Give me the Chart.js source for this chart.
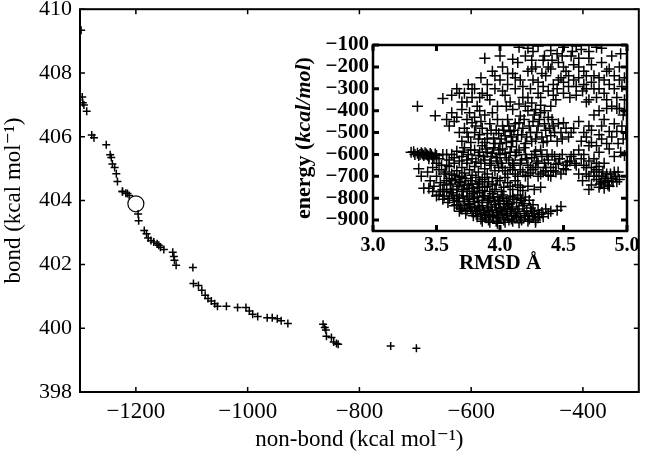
<!DOCTYPE html>
<html>
<head>
<meta charset="utf-8">
<script src="https://cdn.jsdelivr.net/npm/chart.js@4/dist/chart.umd.min.js"></script>
<style>
  body { margin: 0; background: #fff; }
  #wrap { position: relative; width: 648px; height: 454px; }
  #main { position: absolute; left: 0; top: 0; }
  #inset { position: absolute; left: 290px; top: 36px; }
</style>
</head>
<body>
<div id="wrap">
  <canvas id="main" width="648" height="454"></canvas>
  <canvas id="inset" width="348" height="240"></canvas>
</div>
<script>
// main panel: non-bond vs bond energy
const nonBond = [
  -1298, -1296, -1295, -1293, -1288, -1279, -1275, -1253,
  -1246, -1244, -1242, -1238, -1235, -1233, -1224, -1218, -1212, -1224, -1215,
  -1196, -1195, -1185, -1181, -1178, -1173, -1168, -1162, -1159, -1156, -1150,
  -1134, -1132, -1131, -1128, -1098,
  -1097, -1088, -1082, -1076, -1071, -1065, -1059, -1054,
  -1038, -1018, -1003, -997, -991, -982, -965, -956, -947, -940, -928,
  -865, -862, -860, -859, -850, -846, -841, -838, -744, -698
];
const bond = [
  409.34, 407.25, 407.07, 407.0, 406.8, 406.06, 405.97, 405.75,
  405.44, 405.35, 405.15, 405.04, 404.84, 404.6, 404.29, 404.23, 404.16, 404.28, 404.22,
  403.58, 403.37, 403.06, 402.96, 402.83, 402.75, 402.7, 402.65, 402.6, 402.54, 402.47,
  402.38, 402.25, 402.13, 401.97, 401.9,
  401.4, 401.34, 401.19, 401.03, 400.93, 400.85, 400.77, 400.69,
  400.69, 400.65, 400.65, 400.54, 400.44, 400.37, 400.33, 400.33, 400.3, 400.23, 400.15,
  400.12, 400.02, 399.94, 399.75, 399.71, 399.57, 399.52, 399.5, 399.44, 399.37
];
const circledX = [-1200];
const circledY = [403.9];
const xTicks = [-1200, -1000, -800, -600, -400];
const yTicks = [398, 400, 402, 404, 406, 408, 410];

// inset: RMSD vs energy
const insetPoints = [
  // left tail
  [3.30,-590],[3.35,-595],[3.37,-600],[3.38,-592],[3.40,-605],[3.42,-598],[3.44,-610],[3.46,-602],
  [3.48,-615],[3.50,-605],[3.52,-620],[3.55,-600],
  [3.32,-588],[3.36,-605],[3.39,-598],[3.41,-592],[3.43,-604],[3.45,-596],[3.47,-612],[3.49,-598],
  [3.33,-600],[3.44,-620],
  [3.36,-665],[3.38,-700],[3.40,-755],[3.43,-680],[3.45,-720],[3.47,-660],[3.48,-745],[3.50,-700],
  [3.52,-670],[3.53,-730],[3.55,-760],[3.56,-690],[3.58,-650],[3.58,-720],
  [3.50,-640],[3.54,-650],[3.57,-680],[3.60,-710],[3.61,-760],[3.56,-740],[3.53,-770],[3.47,-770],
  [3.44,-755],[3.50,-790],[3.55,-805],[3.59,-820],[3.64,-835],[3.68,-860],
  // dense core
  [3.60,-655],[3.62,-690],[3.64,-640],[3.66,-675],[3.68,-700],[3.70,-660],[3.72,-685],[3.74,-640],
  [3.76,-670],[3.78,-695],[3.80,-655],[3.83,-680],[3.85,-640],[3.88,-665],[3.90,-690],[3.93,-650],
  [3.96,-675],[3.99,-660],
  [3.58,-770],[3.61,-735],[3.63,-760],[3.65,-715],[3.67,-745],[3.69,-725],[3.71,-760],[3.73,-710],
  [3.75,-740],[3.77,-720],[3.79,-755],[3.81,-705],[3.83,-735],[3.86,-715],[3.88,-750],[3.91,-725],
  [3.94,-705],[3.97,-740],[4.00,-720],[4.03,-750],[4.06,-730],[4.10,-760],[4.14,-740],[4.18,-765],
  [4.22,-745],[4.27,-760],[4.32,-750],
  [3.62,-720],[3.64,-695],[3.66,-760],[3.68,-730],[3.70,-705],[3.72,-740],[3.74,-770],[3.76,-755],
  [3.78,-735],[3.80,-770],[3.82,-750],[3.84,-725],[3.86,-765],[3.88,-705],[3.90,-745],[3.92,-770],
  [3.94,-735],[3.96,-760],[3.98,-710],[4.01,-770],[4.04,-705],[4.08,-745],[4.12,-720],[4.16,-750],
  [3.52,-785],[3.56,-790],[3.60,-800],[3.62,-775],[3.64,-810],[3.66,-785],[3.68,-800],[3.70,-770],
  [3.72,-815],[3.74,-790],[3.76,-805],[3.78,-780],[3.80,-815],[3.82,-795],[3.84,-775],[3.86,-810],
  [3.88,-790],[3.90,-820],[3.92,-800],[3.94,-780],[3.96,-815],[3.98,-795],[4.00,-810],[4.02,-785],
  [4.05,-815],[4.08,-795],[4.11,-805],[4.14,-785],[4.17,-810],[4.20,-795],
  [3.63,-790],[3.67,-815],[3.71,-795],[3.75,-825],[3.79,-800],[3.83,-820],[3.87,-790],[3.91,-810],
  [3.95,-795],[3.99,-825],[4.03,-800],[4.07,-825],[4.10,-790],[4.13,-820],[4.16,-800],[4.19,-825],
  [4.23,-810],[4.26,-830],
  [3.66,-830],[3.69,-845],[3.72,-835],[3.74,-855],[3.76,-830],[3.78,-860],[3.80,-840],[3.82,-870],
  [3.84,-850],[3.86,-835],[3.88,-865],[3.90,-845],[3.92,-875],[3.94,-855],[3.96,-830],[3.98,-865],
  [4.00,-845],[4.02,-875],[4.04,-850],[4.06,-830],[4.08,-860],[4.10,-840],[4.12,-870],[4.15,-850],
  [4.18,-835],[4.21,-860],[4.24,-845],[4.27,-870],[4.30,-855],[4.33,-865],[4.36,-850],[4.40,-860],
  [3.70,-850],[3.73,-870],[3.77,-845],[3.79,-880],[3.81,-855],[3.83,-840],[3.85,-875],[3.87,-855],
  [3.89,-890],[3.91,-860],[3.93,-840],[3.95,-880],[3.97,-855],[3.99,-890],[4.01,-860],[4.03,-840],
  [4.05,-870],[4.07,-900],[4.09,-850],[4.11,-880],[4.14,-860],[4.16,-890],[4.19,-870],[4.22,-880],
  [4.25,-860],[4.28,-900],[4.31,-875],[4.34,-885],[4.38,-870],
  [3.82,-885],[3.85,-895],[3.88,-880],[3.91,-900],[3.94,-885],[3.97,-905],[4.00,-890],[4.03,-900],
  [4.06,-880],[4.09,-895],[4.13,-885],[4.17,-900],[4.20,-880],[4.23,-895],[4.26,-885],[4.30,-890],
  [3.86,-905],[3.92,-910],[3.98,-915],[4.04,-910],[4.10,-905],[4.15,-912],[4.22,-905],[4.28,-910],
  [4.45,-855],[4.48,-838],
  // band around -600
  [3.62,-600],[3.66,-585],[3.70,-610],[3.72,-570],[3.75,-600],[3.78,-620],[3.80,-580],[3.83,-605],
  [3.86,-560],[3.88,-625],[3.90,-590],[3.93,-610],[3.95,-570],[3.98,-630],[4.00,-600],[4.02,-575],
  [4.05,-615],[4.08,-590],[4.10,-640],[4.12,-605],[4.15,-580],[4.17,-625],[4.20,-600],[4.22,-650],
  [4.25,-615],[4.28,-585],[4.30,-640],[4.33,-610],[4.36,-660],[4.38,-625],[4.41,-600],[4.44,-645],
  [4.47,-620],[4.50,-665],[4.53,-635],[4.56,-610],[4.60,-650],
  [3.58,-600],[3.60,-625],[3.64,-615],[3.68,-630],[3.71,-590],[3.74,-625],[3.77,-580],[3.81,-635],
  [3.84,-590],[3.87,-610],[3.89,-575],[3.92,-640],[3.94,-595],[3.97,-615],[3.99,-580],[4.01,-640],
  [4.04,-595],[4.07,-625],[4.09,-565],[4.11,-650],[4.13,-590],[4.16,-640],[4.19,-570],[4.21,-620],
  [4.24,-660],[4.27,-600],[4.29,-630],[4.32,-580],[4.35,-640],[4.37,-600],[4.40,-660],[4.43,-610],
  [4.46,-640],[4.49,-600],[4.52,-650],[4.55,-630],[4.58,-600],[4.59,-640],
  [4.02,-660],[4.06,-690],[4.10,-670],[4.14,-700],[4.18,-680],[4.22,-695],[4.26,-670],[4.30,-700],
  [4.34,-680],[4.38,-695],[4.42,-675],
  [4.04,-675],[4.08,-660],[4.12,-690],[4.16,-670],[4.20,-700],[4.24,-685],[4.28,-660],[4.32,-690],
  [4.36,-675],[4.40,-700],[4.44,-680],[4.48,-690],[4.52,-670],
  // middle blob
  [3.60,-470],[3.64,-450],[3.68,-500],[3.72,-480],[3.75,-520],[3.78,-455],[3.80,-500],[3.83,-530],
  [3.86,-480],[3.88,-545],[3.90,-505],[3.92,-460],[3.95,-525],[3.97,-490],[4.00,-550],[4.02,-470],
  [4.04,-515],[4.06,-440],[4.08,-495],[4.10,-540],[4.12,-460],[4.14,-510],[4.16,-425],[4.18,-480],
  [4.20,-550],[4.22,-400],[4.24,-500],[4.26,-450],[4.28,-530],[4.30,-470],[4.32,-410],[4.34,-545],
  [4.36,-490],[4.38,-430],[4.40,-515],[4.42,-470],[4.45,-540],[4.48,-500],[4.50,-455],[4.54,-520],
  [4.58,-480],
  [3.90,-530],[3.93,-490],[3.96,-550],[3.99,-505],[4.01,-530],[4.03,-490],[4.05,-545],[4.07,-470],
  [4.09,-520],[4.11,-490],[4.13,-540],[4.15,-455],[4.17,-510],[4.19,-440],[4.21,-520],[4.23,-470],
  [4.25,-540],[4.27,-420],[4.29,-500],[4.31,-440],[4.33,-520],[4.35,-460],[4.37,-540],[4.39,-480],
  [4.41,-440],[4.43,-500],[4.46,-460],[4.49,-530],[4.52,-480],[4.56,-500],
  [3.70,-540],[3.74,-500],[3.77,-545],[3.81,-470],[3.84,-510],[3.85,-450],
  [4.20,-380],[4.25,-365],[4.28,-395],[4.32,-375],[4.35,-400],
  // right cluster
  [4.62,-690],[4.65,-720],[4.68,-660],[4.70,-700],[4.72,-740],[4.74,-680],[4.76,-715],[4.78,-655],
  [4.80,-700],[4.82,-730],[4.84,-690],[4.86,-745],[4.88,-710],[4.90,-680],[4.92,-725],[4.70,-760],
  [4.78,-750],[4.85,-720],
  [4.76,-670],[4.78,-700],[4.80,-725],[4.81,-680],[4.83,-710],[4.85,-740],[4.87,-690],[4.89,-725],
  [4.91,-700],[4.93,-680],[4.94,-715],[4.79,-735],[4.82,-755],[4.74,-700],[4.72,-660],[4.68,-690],
  [4.66,-650],[4.64,-620],[4.70,-630],[4.76,-640],
  [4.62,-580],[4.66,-600],[4.70,-560],[4.74,-620],[4.78,-590],[4.82,-640],[4.86,-575],[4.90,-610],
  [4.95,-590],[4.98,-605],[4.93,-550],[4.97,-530],
  [4.64,-540],[4.68,-520],[4.72,-545],[4.76,-560],[4.80,-530],[4.84,-550],[4.88,-520],[4.92,-495],
  [4.96,-470],[4.99,-500],[4.80,-470],[4.72,-490],
  [4.62,-450],[4.66,-500],[4.70,-470],[4.74,-420],[4.78,-510],[4.82,-440],[4.86,-495],[4.90,-460],
  [4.94,-390],[4.97,-420],[4.84,-390],[4.88,-380],[4.78,-400],
  // sparse upper part
  [3.35,-380],[3.55,-345],[3.49,-423],
  [3.62,-330],[3.66,-300],[3.70,-360],[3.72,-320],[3.75,-280],[3.78,-340],[3.80,-300],[3.82,-380],
  [3.85,-250],[3.86,-320],[3.88,-160],[3.90,-280],[3.92,-350],[3.94,-220],[3.96,-300],[3.98,-380],
  [4.00,-260],[4.02,-200],[4.04,-330],[4.06,-280],[4.08,-360],[4.10,-230],[4.12,-300],[4.14,-180],
  [4.16,-260],[4.18,-340],[4.20,-150],[4.22,-220],[4.24,-300],[4.26,-130],[4.28,-200],[4.30,-270],
  [4.32,-340],[4.34,-170],[4.36,-240],[4.38,-310],[4.40,-210],[4.42,-280],[4.44,-350],[4.46,-180],
  [4.48,-250],[4.50,-320],[4.52,-220],[4.54,-290],[4.56,-150],[4.58,-260],[4.60,-330],[4.62,-200],
  [4.64,-120],[4.66,-280],[4.68,-240],[4.70,-350],[4.72,-190],[4.74,-300],[4.76,-110],[4.78,-250],
  [4.80,-180],[4.82,-320],[4.84,-220],[4.86,-280],[4.88,-150],[4.90,-240],[4.92,-340],[4.94,-200],
  [4.96,-290],[4.98,-250],[4.95,-140],
  [3.90,-330],[3.96,-240],[4.02,-310],[4.06,-230],[4.12,-250],[4.18,-290],[4.22,-340],[4.26,-260],
  [4.30,-320],[4.34,-290],[4.38,-200],[4.42,-330],[4.46,-260],[4.50,-200],[4.54,-240],[4.58,-190],
  [4.62,-250],[4.66,-220],[4.70,-160],[4.74,-240],[4.78,-300],[4.82,-260],[4.86,-210],[4.90,-300],
  [4.94,-260],[4.98,-350],[4.25,-210],[4.33,-230],[4.41,-170],[4.49,-150],[4.57,-130],[4.68,-300],
  [4.76,-340],[4.84,-350],[4.92,-390],[4.98,-400],[3.78,-300],[3.84,-340],[3.74,-360],[3.68,-320],
  [3.58,-440],[3.62,-410],[3.66,-430],[3.70,-395],[3.74,-440],[3.76,-410],[3.80,-430],[3.84,-400],
  [3.88,-420],[3.94,-410],[3.98,-440],
  [4.05,-380],[4.10,-395],[4.15,-370],[4.40,-380],[4.45,-300],[4.50,-270],[4.55,-340],[4.60,-290],
  [4.65,-310],[4.68,-360],[4.72,-270],
  [4.15,-110],[4.22,-115],[4.30,-105],[4.40,-125],[4.50,-110],[4.60,-105],[4.70,-130],[4.80,-115],
  [4.62,-160],[4.45,-140],[4.35,-150],[4.25,-170],[4.10,-165],[4.00,-150]
];
const rmsdTicks = [3.0, 3.5, 4.0, 4.5, 5.0];
const energyTicks = [-900, -800, -700, -600, -500, -400, -300, -200, -100];

const serif = "'Liberation Serif', 'DejaVu Serif', serif";
const minus = (v) => String(v).replace("-", "\u2212");

// no extra room for half tick labels: keep the plot box where it is
const noPad = (s) => {
    s.paddingTop = 0;
    s.paddingBottom = 0;
    s.paddingLeft = 0;
    s.paddingRight = 0;
};

// box around the plot area plus inward tick marks on all four sides
const frameTicks = {
    id: "frameTicks",
    afterDraw(chart, args, opts) {
        const { ctx, chartArea: a } = chart;
        const x = chart.scales.x;
        const y = chart.scales.y;
        const L = opts.len;
        ctx.save();
        ctx.strokeStyle = "#000";
        ctx.lineWidth = opts.lineWidth;
        ctx.strokeRect(a.left, a.top, a.right - a.left, a.bottom - a.top);
        ctx.lineWidth = opts.tickWidth;
        ctx.beginPath();
        x.ticks.forEach((t) => {
            const px = x.getPixelForValue(t.value);
            ctx.moveTo(px, a.bottom); ctx.lineTo(px, a.bottom - L);
            ctx.moveTo(px, a.top); ctx.lineTo(px, a.top + L);
        });
        y.ticks.forEach((t) => {
            const py = y.getPixelForValue(t.value);
            ctx.moveTo(a.left, py); ctx.lineTo(a.left + L, py);
            ctx.moveTo(a.right, py); ctx.lineTo(a.right - L, py);
        });
        ctx.stroke();
        ctx.restore();
    },
};

new Chart(document.getElementById("main"), {
    type: "scatter",
    data: {
        datasets: [
            {
                data: nonBond.map((v, i) => ({ x: v, y: bond[i] })),
                pointStyle: "cross",
                pointRadius: 4,
                borderColor: "#000",
                borderWidth: 1.5,
            },
            {
                data: circledX.map((v, i) => ({ x: v, y: circledY[i] })),
                pointStyle: "circle",
                pointRadius: 8,
                backgroundColor: "rgba(0,0,0,0)",
                borderColor: "#000",
                borderWidth: 1.2,
            },
        ],
    },
    options: {
        responsive: false,
        animation: false,
        devicePixelRatio: 1,
        layout: { padding: { top: 8, right: 6, left: 0, bottom: 0 } },
        plugins: {
            legend: { display: false },
            tooltip: { enabled: false },
            frameTicks: { len: 5, lineWidth: 2, tickWidth: 1.5 },
        },
        scales: {
            x: {
                type: "linear",
                min: -1300,
                max: -300,
                afterBuildTicks: (s) => { s.ticks = xTicks.map((v) => ({ value: v })); },
                afterFit: (s) => { s.height = 62; noPad(s); },
                grid: { display: false, drawTicks: false },
                border: { display: false },
                ticks: { color: "#000", padding: 6, maxRotation: 0, autoSkip: false, font: { family: serif, size: 23 }, callback: minus },
                title: { display: true, text: "non-bond (kcal mol\u207B\u00B9)", color: "#000", padding: 0, font: { family: serif, size: 23 } },
            },
            y: {
                type: "linear",
                min: 398,
                max: 410,
                afterBuildTicks: (s) => { s.ticks = yTicks.map((v) => ({ value: v })); },
                afterFit: (s) => { s.width = 80; noPad(s); },
                grid: { display: false, drawTicks: false },
                border: { display: false },
                ticks: { color: "#000", padding: 8, autoSkip: false, font: { family: serif, size: 22 } },
                title: { display: true, text: "bond (kcal mol\u207B\u00B9)", color: "#000", padding: 0, font: { family: serif, size: 23 } },
            },
        },
    },
    plugins: [frameTicks],
});

// y title of the inset with the unit in italics
const insetTitle = {
    id: "insetTitle",
    afterDraw(chart) {
        const { ctx, chartArea: a } = chart;
        const parts = [
            ["energy (", "bold 22px " + serif],
            ["kcal/mol", "italic bold 22px " + serif],
            [")", "bold 22px " + serif],
        ];
        ctx.save();
        let total = 0;
        parts.forEach((p) => { ctx.font = p[1]; total += ctx.measureText(p[0]).width; });
        ctx.translate(14, (a.top + a.bottom) / 2);
        ctx.rotate(-Math.PI / 2);
        ctx.fillStyle = "#000";
        ctx.textBaseline = "middle";
        let cx = -total / 2;
        parts.forEach((p) => {
            ctx.font = p[1];
            ctx.fillText(p[0], cx, 0);
            cx += ctx.measureText(p[0]).width;
        });
        ctx.restore();
    },
};

new Chart(document.getElementById("inset"), {
    type: "scatter",
    data: {
        datasets: [
            {
                data: insetPoints.map((p) => ({ x: p[0], y: p[1] })),
                pointStyle: "cross",
                pointRadius: 5.5,
                borderColor: "#000",
                borderWidth: 1.5,
            },
        ],
    },
    options: {
        responsive: false,
        animation: false,
        devicePixelRatio: 1,
        layout: { padding: { top: 9, right: 11, left: 0, bottom: 0 } },
        plugins: {
            legend: { display: false },
            tooltip: { enabled: false },
            frameTicks: { len: 6, lineWidth: 2.5, tickWidth: 3 },
        },
        scales: {
            x: {
                type: "linear",
                min: 3.0,
                max: 5.0,
                afterBuildTicks: (s) => { s.ticks = rmsdTicks.map((v) => ({ value: v })); },
                afterFit: (s) => { s.height = 45; noPad(s); },
                grid: { display: false, drawTicks: false },
                border: { display: false },
                ticks: { color: "#000", padding: 3, maxRotation: 0, autoSkip: false, font: { family: serif, size: 20, weight: "bold" }, callback: (v) => v.toFixed(1) },
                title: { display: true, text: "RMSD \u00C5", color: "#000", padding: 0, font: { family: serif, size: 21, weight: "bold" } },
            },
            y: {
                type: "linear",
                min: -950,
                max: -100,
                afterBuildTicks: (s) => { s.ticks = energyTicks.map((v) => ({ value: v })); },
                afterFit: (s) => { s.width = 83; noPad(s); },
                grid: { display: false, drawTicks: false },
                border: { display: false },
                ticks: { color: "#000", padding: 4, autoSkip: false, font: { family: serif, size: 21, weight: "bold" }, callback: minus },
            },
        },
    },
    plugins: [frameTicks, insetTitle],
});
</script>
</body>
</html>
